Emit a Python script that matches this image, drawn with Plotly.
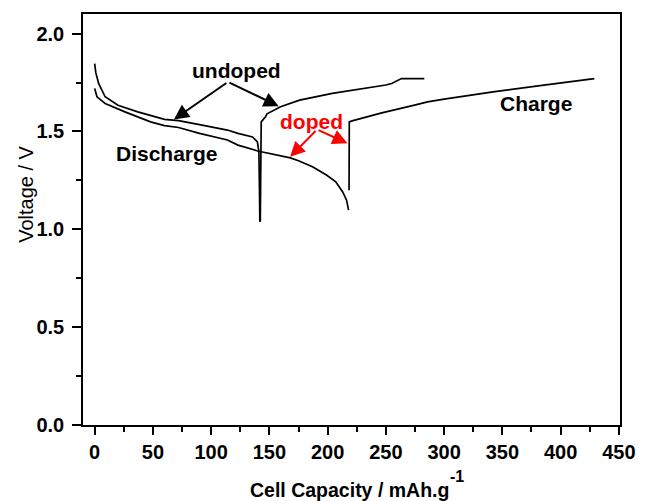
import plotly.graph_objects as go

# ---- data (capacity in mAh/g, voltage in V) ----
undoped_dis_x = [0, 1, 3.4, 9, 20, 37, 60, 72, 90, 114, 123, 135.5, 139.7, 141, 141.5, 141.8]
undoped_dis_v = [1.847, 1.80, 1.745, 1.677, 1.634, 1.60, 1.562, 1.555, 1.535, 1.507, 1.49, 1.472, 1.447, 1.396, 1.20, 1.039]

undoped_chg_x = [142.2, 142.4, 142.6, 143, 146.7, 148, 159.6, 176, 204, 232.5, 250, 255, 263.4, 283]
undoped_chg_v = [1.039, 1.30, 1.52, 1.549, 1.575, 1.59, 1.626, 1.66, 1.694, 1.719, 1.737, 1.745, 1.770, 1.770]

doped_dis_x = [0, 2, 9, 26, 48, 60, 72, 90, 114, 123, 140, 157, 168, 175, 187, 199, 207, 212.8, 216.2, 218]
doped_dis_v = [1.72, 1.677, 1.643, 1.60, 1.549, 1.53, 1.52, 1.49, 1.456, 1.43, 1.40, 1.378, 1.365, 1.35, 1.32, 1.277, 1.243, 1.192, 1.15, 1.098]

doped_chg_x = [218.4, 218.5, 218.6, 221, 238, 246.5, 274.6, 285.8, 300, 342, 384, 410, 429]
doped_chg_v = [1.20, 1.40, 1.549, 1.554, 1.583, 1.595, 1.634, 1.651, 1.665, 1.702, 1.735, 1.755, 1.770]

x_ticks = [0, 50, 100, 150, 200, 250, 300, 350, 400, 450]
y_ticks = [0.0, 0.5, 1.0, 1.5, 2.0]

FONT = "Liberation Sans, Arial, sans-serif"

fig = go.Figure()
for xs, vs in [(undoped_dis_x, undoped_dis_v), (undoped_chg_x, undoped_chg_v),
               (doped_dis_x, doped_dis_v), (doped_chg_x, doped_chg_v)]:
    fig.add_trace(go.Scatter(x=xs, y=vs, mode="lines",
                             line=dict(color="black", width=1.7), showlegend=False,
                             hoverinfo="skip"))

def arrow(hx, hy, tx, ty, color):
    fig.add_annotation(x=hx, y=hy, ax=tx, ay=ty, xref="x", yref="y",
                       axref="x", ayref="y", text="", showarrow=True,
                       arrowhead=2, arrowsize=1.5, arrowwidth=2, arrowcolor=color)

arrow(68, 1.561, 114.4, 1.753, "black")
arrow(158, 1.629, 114.4, 1.753, "black")
arrow(167.8, 1.370, 190.9, 1.510, "red")
arrow(217, 1.439, 190.9, 1.510, "red")

def label(x, y, text, color):
    fig.add_annotation(x=x, y=y, xref="x", yref="y", text=text, showarrow=False,
                       font=dict(family=FONT, size=21, color=color, weight="bold"),
                       xanchor="center", yanchor="middle")

label(121.5, 1.813, "undoped", "black")
label(185.8, 1.552, "doped", "red")
label(61.7, 1.389, "Discharge", "black")
label(379, 1.645, "Charge", "black")

# axis titles
fig.add_annotation(xref="paper", yref="paper", x=0.4954, y=0, yanchor="middle", xanchor="center",
                   yshift=-65, showarrow=False,
                   text="Cell Capacity / mAh.g",
                   font=dict(family=FONT, size=19.5, color="black", weight="bold"))
fig.add_annotation(xref="paper", yref="paper", x=0.6967, y=0, yanchor="middle", xanchor="center",
                   yshift=-51, showarrow=False,
                   text="-1",
                   font=dict(family=FONT, size=16, color="black", weight="bold"))
fig.add_annotation(xref="paper", yref="paper", x=0, y=0.56, xanchor="center", yanchor="middle",
                   xshift=-57, showarrow=False, textangle=-90,
                   text="Voltage / V",
                   font=dict(family=FONT, size=20, color="black"))

fig.update_layout(
    width=648, height=501,
    margin=dict(l=83, r=19, t=14, b=76),
    paper_bgcolor="white", plot_bgcolor="white",
    font=dict(family=FONT, color="black"),
)
fig.update_xaxes(range=[-10, 451], tickvals=x_ticks, ticktext=[str(t) for t in x_ticks],
                 showgrid=False, zeroline=False, showline=True, mirror=True,
                 linecolor="black", linewidth=1.5, ticks="outside", ticklen=8,
                 tickwidth=1.5, tickcolor="black",
                 tickfont=dict(family=FONT, size=20, color="black", weight="bold"),
                 minor=dict(dtick=25, tick0=0, ticks="outside", ticklen=5, tickwidth=1.5,
                            tickcolor="black", showgrid=False))
fig.update_yaxes(range=[0, 2.1], tickvals=y_ticks, ticktext=["%.1f" % t for t in y_ticks],
                 showgrid=False, zeroline=False, showline=True, mirror=True,
                 linecolor="black", linewidth=1.5, ticks="outside", ticklen=9,
                 tickwidth=1.5, tickcolor="black", ticklabelstandoff=4,
                 tickfont=dict(family=FONT, size=20, color="black", weight="bold"),
                 minor=dict(dtick=0.25, tick0=0, ticks="outside", ticklen=5, tickwidth=1.5,
                            tickcolor="black", showgrid=False))

fig.write_html("out.html")
